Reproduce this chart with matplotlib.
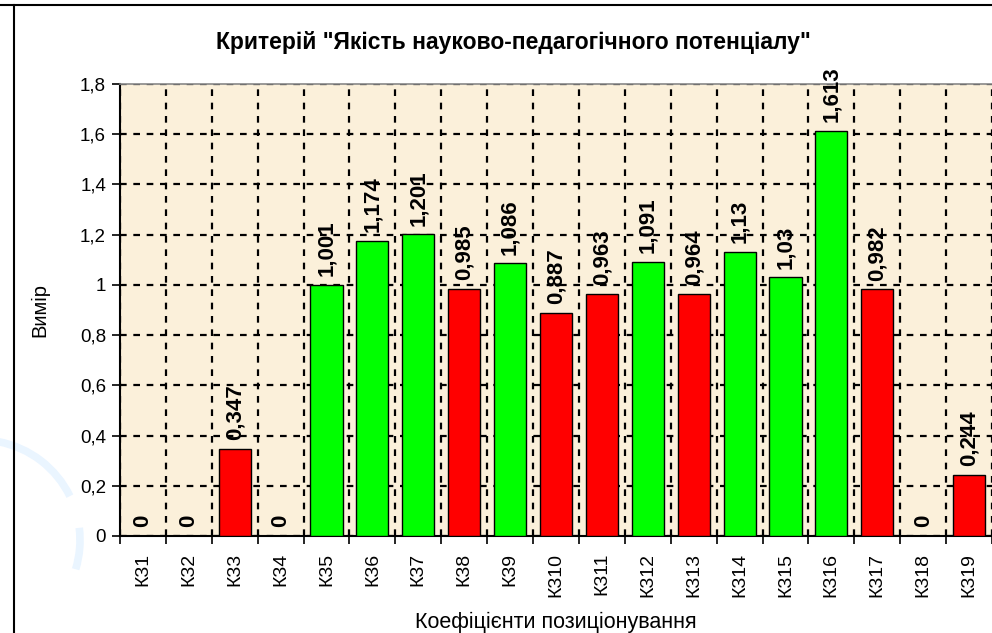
import matplotlib
matplotlib.use("Agg")
import matplotlib.pyplot as plt
from matplotlib.lines import Line2D
from matplotlib.patches import Arc
import numpy as np

categories = ["К31", "К32", "К33", "К34", "К35", "К36", "К37", "К38", "К39", "К310",
              "К311", "К312", "К313", "К314", "К315", "К316", "К317", "К318", "К319"]
values = [0, 0, 0.347, 0, 1.001, 1.174, 1.201, 0.985, 1.086, 0.887,
          0.963, 1.091, 0.964, 1.13, 1.03, 1.613, 0.982, 0, 0.244]
value_labels = ["0", "0", "0,347", "0", "1,001", "1,174", "1,201", "0,985", "1,086", "0,887",
                "0,963", "1,091", "0,964", "1,13", "1,03", "1,613", "0,982", "0", "0,244"]
yticks = [0, 0.2, 0.4, 0.6, 0.8, 1.0, 1.2, 1.4, 1.6, 1.8]
ytick_labels = ["0", "0,2", "0,4", "0,6", "0,8", "1", "1,2", "1,4", "1,6", "1,8"]
title = 'Критерій "Якість науково-педагогічного потенціалу"'
xlabel = "Коефіцієнти позиціонування"
ylabel = "Вимір"

plt.rcParams['font.family'] = ['Liberation Sans', 'DejaVu Sans']

fig = plt.figure(figsize=(9.92, 6.33), dpi=100)

# faint watermark swoosh (figure pixel coords)
for t1, t2 in [(26, 79), (-17, 7)]:
    fig.add_artist(Arc((-20, 633 - 540), 200, 200, angle=0, theta1=t1, theta2=t2,
                       transform=None, color="#EAF5FF", linewidth=5.5, zorder=0))

ax = fig.add_axes([120/992, (633-536)/633, 872/992, (536-84)/633])
ax.set_facecolor("#FBF0DA")

n = len(categories)
x = np.arange(n)
colors = ["#00FF00" if v >= 1 else "#FF0000" for v in values]
for xi, v, c in zip(x, values, colors):
    if v > 0:
        ax.bar(xi, v, width=0.7, color=c, edgecolor="black", linewidth=1.0, zorder=3)

for xi, v, lab in zip(x, values, value_labels):
    ax.text(xi, v + 0.035, lab, rotation=90, ha="center", va="bottom",
            fontsize=16, fontweight="bold", zorder=4, clip_on=False)

ax.set_xlim(-0.5, n - 0.5)
ax.set_ylim(0, 1.8)
ax.set_yticks(yticks)
ax.set_yticklabels(ytick_labels, fontsize=13.5)
ax.set_xticks(np.arange(-0.5, n, 1.0))
ax.set_xticklabels([])
ax.set_xticks(x, minor=True)
ax.set_xticklabels(categories, minor=True, rotation=90, fontsize=14)
ax.tick_params(axis="x", which="minor", length=0, pad=12)
ax.tick_params(axis="x", which="major", length=6, width=1.2, direction="out")
ax.tick_params(axis="y", length=6, width=1.2, direction="out", pad=4)

ax.grid(True, axis="both", which="major", color="black", linestyle=(0, (3, 3)),
        linewidth=1.6, zorder=1)
ax.set_axisbelow(True)

for s in ["left", "bottom"]:
    ax.spines[s].set_linewidth(1.5)
    ax.spines[s].set_color("black")
ax.spines["top"].set_color("#888888")
ax.spines["top"].set_linewidth(1.2)
ax.spines["right"].set_visible(False)

fig.text(513/992, 1 - 43/633, title, fontsize=16.5, fontweight="bold",
         ha="center", va="center")
ax.set_xlabel(xlabel, fontsize=15.5, labelpad=11)
ax.set_ylabel(ylabel, fontsize=14.5, labelpad=22)

# outer frame
fig.add_artist(Line2D([0, 1], [1 - 5/633, 1 - 5/633], transform=fig.transFigure,
                      color="black", linewidth=1.5))
fig.add_artist(Line2D([14/992, 14/992], [0, 1 - 5/633], transform=fig.transFigure,
                      color="black", linewidth=1.5))

fig.savefig("out.png", dpi=100)
